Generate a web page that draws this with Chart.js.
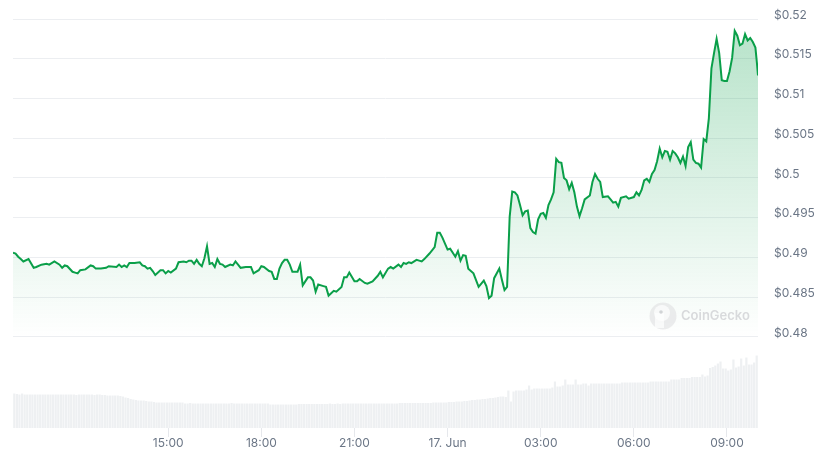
<!DOCTYPE html>
<html>
<head>
<meta charset="utf-8">
<title>Price chart</title>
<script src="https://cdn.jsdelivr.net/npm/chart.js@4/dist/chart.umd.min.js"></script>
<style>
  html, body { margin: 0; padding: 0; background: #fff; }
  canvas { display: block; }
</style>
</head>
<body>
<canvas id="price-chart" width="824" height="459"></canvas>
<script>
// minutes since the start of the 24h window (10:00)
const priceMinutes = [
  0,5,10,15,20,30,40,45,55,65,70,80,90,95,100,105,115,120,125,130,140,150,155,160,170,180,185,200,205,210,215,220,225,235,245,250,255,260,265,270,275,285,
  290,295,300,305,315,320,330,335,340,345,350,355,360,365,370,375,380,385,390,395,400,405,410,420,425,430,435,440,450,460,465,475,480,485,495,500,505,510,515,520,525,530,535,540,550,555,560,570,575,
  580,585,590,600,605,610,615,620,625,635,640,645,650,660,665,670,680,685,695,705,710,715,725,730,735,745,750,755,760,765,770,780,785,790,795,805,815,820,825,830,840,845,855,860,865,
  870,875,880,890,900,910,915,920,925,930,940,945,950,955,960,965,970,975,980,985,990,995,1000,1005,1010,1015,1020,1025,1030,1035,1040,1045,1050,1055,1060,1065,1070,1075,1080,1085,1090,1095,1100,1105,1115,1120,1125,1130,1135,1140,1150,1155,
  1160,1165,1170,1175,1185,1190,1200,1205,1210,1215,1220,1225,1230,1235,1240,1245,1250,1255,1260,1265,1270,1275,1280,1285,1290,1295,1300,1305,1310,1315,1320,1325,1330,1335,1340,1345,1350,1355,1360,1365,1370,1375,1380,1385,1390,1395,1400,1405,1410,1415,1420,1425,1430,1435,1438,1440
];
const priceValues = [
  .4906,.4905,.4901,.4898,.4895,.4898,.4887,.4888,.4891,.4892,.4891,.4895,.4891,.4887,.4890,.4889,.4882,.4881,.4880,.4884,.4885,.4890,.4889,.4886,.4886,.4887,.4889,.4888,.4891,.4888,.4890,.4888,.4893,.4893,.4894,.4890,.4889,.4886,.4887,.4883,.4878,.4884,
  .4884,.4880,.4883,.4881,.4886,.4894,.4895,.4894,.4896,.4896,.4892,.4897,.4892,.4889,.4899,.4914,.4892,.4893,.4888,.4898,.4892,.4891,.4888,.4891,.4890,.4895,.4891,.4887,.4888,.4888,.4880,.4884,.4889,.4888,.4883,.4882,.4873,.4873,.4886,.4893,.4897,.4897,.4891,.4882,.4882,.4891,.4865,.4875,.4875,
  .4871,.4857,.4866,.4864,.4863,.4852,.4855,.4858,.4857,.4863,.4875,.4875,.4881,.4870,.4870,.4873,.4868,.4867,.4870,.4877,.4882,.4875,.4886,.4888,.4886,.4891,.4888,.4893,.4892,.4894,.4893,.4897,.4896,.4895,.4898,.4905,.4913,.4931,.4931,.4925,.4910,.4911,.4901,.4908,.4896,
  .4903,.4902,.4886,.4880,.4863,.4871,.4864,.4849,.4852,.4874,.4886,.4872,.4859,.4863,.4951,.4983,.4982,.4978,.4966,.4953,.4958,.4959,.4937,.4932,.4930,.4948,.4955,.4956,.4950,.4966,.4973,.4982,.5024,.5020,.5019,.5000,.4997,.4986,.4994,.4982,.4964,.4952,.4962,.4973,.4978,.4995,.5005,.4999,.4995,.4976,.4977,.4973,
  .4969,.4970,.4964,.4975,.4977,.4974,.4976,.4982,.4978,.4985,.4997,.4999,.4995,.5005,.5010,.5021,.5037,.5026,.5034,.5033,.5023,.5034,.5031,.5026,.5019,.5027,.5015,.5039,.5045,.5023,.5019,.5018,.5013,.5049,.5046,.5075,.5138,.5157,.5175,.5157,.5123,.5122,.5122,.5134,.5151,.5185,.5179,.5167,.5169,.5181,.5173,.5176,.5171,.5164,.5144,.5129
];
// one bar every 5 minutes, in millions
const volumeValues = [
  69,68,67,69,67,67,67,67,67,67,
  67,67,67,67,67,67,67,67,67,67,
  67,67,67,67,66,67,67,67,67,67,
  67,66,67,67,66,66,65,65,65,65,
  65,64,63,61,60,58,57,56,55,55,
  55,54,53,53,52,51,51,51,51,51,
  51,51,51,51,51,51,49,49,50,49,
  49,49,49,49,49,49,49,49,49,49,
  49,49,49,49,50,49,49,49,49,49,
  49,49,49,49,49,49,49,49,49,47,
  47,47,47,47,47,47,47,47,47,47,
  48,48,48,48,48,48,48,48,48,48,
  48,48,49,48,48,49,48,49,49,49,
  49,49,49,49,49,49,49,49,49,49,
  49,49,49,49,49,49,49,49,49,50,
  50,50,50,50,50,50,50,50,50,50,
  50,50,51,51,51,51,51,51,52,52,
  52,53,53,53,54,54,55,56,56,57,
  57,58,58,59,60,60,61,62,63,63,
  62,75,53,73,75,75,75,75,77,85,
  77,79,79,79,79,79,79,79,81,93,
  83,83,85,97,87,87,87,97,87,87,
  89,89,85,89,89,89,89,89,89,89,
  89,89,89,89,89,91,91,91,91,91,
  91,91,91,91,91,91,93,93,93,93,
  93,93,93,93,97,97,97,97,100,100,
  100,100,102,102,102,102,107,103,105,120,
  122,125,129,133,119,119,115,117,137,121,
  123,139,125,141,127,127,131,145
];
const priceTicks = [0.48, 0.485, 0.49, 0.495, 0.5, 0.505, 0.51, 0.515, 0.52];
const priceLabels = ['$0.48', '$0.485', '$0.49', '$0.495', '$0.5', '$0.505', '$0.51', '$0.515', '$0.52'];
const timeTicks = [300, 480, 660, 840, 1020, 1200, 1380];
const timeLabels = ['15:00', '18:00', '21:00', '17. Jun', '03:00', '06:00', '09:00'];

const gridColor = '#eceef1';
const textColor = '#6b7686';
const lineColor = '#0a9f49';

const areaGradient = (context) => {
  const { chart } = context;
  if (!chart.chartArea) return 'rgba(10,159,73,0.2)';
  const y = chart.scales.y;
  const g = chart.ctx.createLinearGradient(0, y.getPixelForValue(0.5185), 0, y.getPixelForValue(0.48));
  g.addColorStop(0, 'rgba(10,159,73,0.29)');
  g.addColorStop(1, 'rgba(10,159,73,0)');
  return g;
};

// faded logo and name sitting on the plot
const watermark = {
  id: 'watermark',
  afterDatasetsDraw(chart) {
    const { ctx } = chart;
    ctx.save();
    ctx.fillStyle = 'rgba(226,228,229,0.7)';
    ctx.beginPath();
    ctx.arc(663, 316, 13.5, 0, Math.PI * 2);
    ctx.fill();
    ctx.fillStyle = 'rgba(255,255,255,0.7)';
    ctx.beginPath();
    ctx.arc(662, 313, 8, 0, Math.PI * 2);
    ctx.fill();
    ctx.fillRect(655, 313, 9, 15);
    ctx.fillStyle = 'rgba(205,207,209,0.9)';
    ctx.beginPath();
    ctx.arc(661, 312, 1.8, 0, Math.PI * 2);
    ctx.fill();
    ctx.fillStyle = '#d8dadc';
    ctx.font = '600 13px Inter';
    ctx.textBaseline = 'middle';
    ctx.fillText('CoinGecko', 681, 316);
    ctx.restore();
  }
};

new Chart('price-chart', {
  type: 'line',
  data: {
    datasets: [
      {
        type: 'line',
        data: priceMinutes.map((m, i) => ({ x: m, y: priceValues[i] })),
        yAxisID: 'y',
        borderColor: lineColor,
        borderWidth: 2,
        backgroundColor: areaGradient,
        fill: { value: 0.48 },
        pointRadius: 0,
        tension: 0,
        order: 1
      },
      {
        type: 'bar',
        data: volumeValues.map((v, i) => ({ x: 2.5 + i * 5, y: v })),
        yAxisID: 'yVol',
        backgroundColor: '#eef0f2',
        categoryPercentage: 1,
        barPercentage: 0.85,
        order: 2
      }
    ]
  },
  plugins: [watermark],
  options: {
    responsive: false,
    animation: false,
    layout: { padding: { left: 13, top: 19, right: 0, bottom: 0 } },
    plugins: { legend: { display: false }, tooltip: { enabled: false } },
    scales: {
      x: {
        type: 'linear',
        offset: false,
        min: 0,
        max: 1440,
        border: { display: false },
        grid: { offset: false, drawOnChartArea: false, drawTicks: true, tickLength: 9, color: '#e6e8ec' },
        afterBuildTicks: (scale) => { scale.ticks = timeTicks.map((value) => ({ value })); },
        afterFit: (scale) => { scale.height = 31; scale.paddingLeft = 0; scale.paddingRight = 0; },
        ticks: {
          autoSkip: false,
          maxRotation: 0,
          padding: -1,
          color: textColor,
          font: { family: 'Inter', size: 12 },
          callback: (value, index) => timeLabels[index]
        }
      },
      y: {
        position: 'right',
        min: 0.46855,
        max: 0.52,
        border: { display: false },
        grid: { color: gridColor, drawTicks: false, tickLength: 0 },
        afterBuildTicks: (scale) => { scale.ticks = priceTicks.map((value) => ({ value })); },
        afterFit: (scale) => { scale.width = 66; scale.paddingTop = 0; scale.paddingBottom = 0; },
        ticks: {
          autoSkip: false,
          padding: 16,
          labelOffset: -4,
          color: textColor,
          font: { family: 'Inter', size: 12 },
          callback: (value, index) => priceLabels[index]
        }
      },
      yVol: {
        display: false,
        min: 0,
        max: 818
      }
    }
  }
});
</script>
</body>
</html>
